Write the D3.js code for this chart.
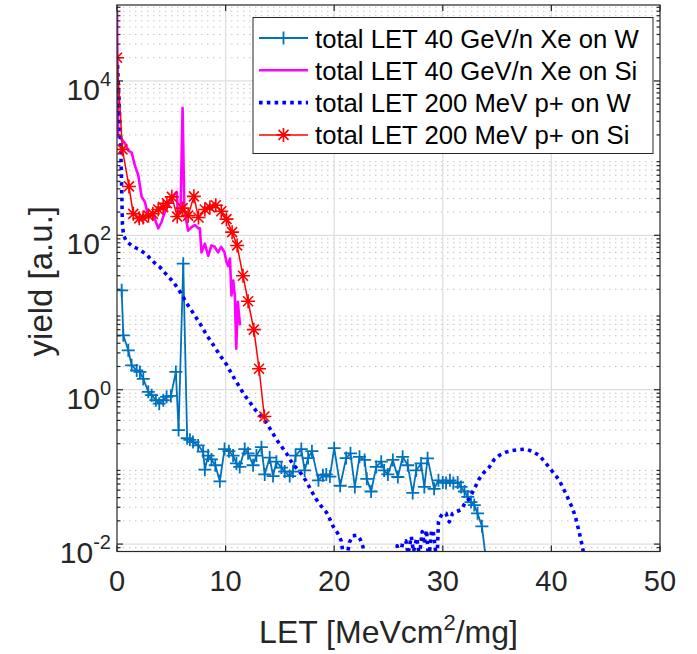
<!DOCTYPE html>
<html>
<head>
<meta charset="utf-8">
<script src="https://cdn.jsdelivr.net/npm/d3@7"></script>
<style>
  body { margin: 0; background: #fff; }
  text { font-family: "Liberation Sans", Arial, Helvetica, sans-serif; }
</style>
</head>
<body>
<div id="chart"></div>
<script>
// total LET 40 GeV/n Xe on W
var xeW_let = [0.43, 0.58, 1.04, 1.35, 1.81, 2.11, 2.42, 2.88, 3.19, 3.58, 3.89, 4.26, 4.57, 4.96, 5.42, 5.67, 6.1, 6.46, 6.71, 7.0,
  7.47, 7.93, 8.09, 8.39, 8.7, 9.05, 9.47, 9.9, 10.3, 10.69, 11.0, 11.3, 11.76, 12.07, 12.53, 12.84, 13.3, 13.6, 14.06, 14.37,
  14.68, 15.14, 15.44, 15.9, 16.2, 16.45, 16.97, 17.28, 17.6, 17.95, 18.55, 18.96, 19.27, 19.6, 20.0, 20.55, 21.1, 21.5, 21.9, 22.33,
  22.8, 23.0, 23.4, 23.87, 24.33, 24.6, 24.94, 25.4, 25.86, 26.3, 26.77, 27.23, 27.55, 28.0, 28.3, 28.6, 29.2, 29.6, 30.0, 30.3,
  30.66, 30.97, 31.37, 31.68, 32.0, 32.3, 32.6, 32.9, 33.2, 33.6, 34.0];
var xeW_yield = [19.4, 5.07, 3.24, 2.07, 1.78, 1.7, 1.38, 0.94, 0.85, 0.73, 0.66, 0.73, 0.81, 0.83, 1.7, 0.30, 43, 0.235, 0.224, 0.21,
  0.19, 0.158, 0.092, 0.14, 0.125, 0.105, 0.065, 0.17, 0.16, 0.14, 0.111, 0.1, 0.17, 0.15, 0.105, 0.14, 0.18, 0.08, 0.132, 0.076,
  0.117, 0.098, 0.087, 0.076, 0.087, 0.14, 0.17, 0.09, 0.13, 0.16, 0.067, 0.078, 0.08, 0.075, 0.175, 0.057, 0.13, 0.15, 0.055, 0.135,
  0.123, 0.07, 0.048, 0.1, 0.117, 0.09, 0.08, 0.123, 0.074, 0.135, 0.105, 0.046, 0.09, 0.111, 0.055, 0.129, 0.052, 0.067, 0.063, 0.062,
  0.067, 0.062, 0.063, 0.055, 0.048, 0.041, 0.035, 0.032, 0.025, 0.017, 0.006];

// total LET 40 GeV/n Xe on Si
var xeSi_let = [0, 0.1, 0.43, 0.74, 1.04, 1.35, 1.65, 1.96, 2.27, 2.57, 2.88, 3.34, 3.8, 4.1, 4.4, 4.8, 5.2, 5.5, 5.6, 5.85,
  6.04, 6.2, 6.55, 6.86, 7.17, 7.5, 7.63, 7.78, 8.09, 8.4, 8.7, 9.0, 9.3, 9.6, 9.9, 10.08, 10.23, 10.4, 10.54, 10.7,
  10.85, 10.98, 11.12, 11.33];
var xeSi_yield = [80000, 1900, 1750, 1550, 1250, 1180, 800, 600, 315, 270, 175, 185, 123, 149, 200, 263, 330, 365, 200, 205,
  4500, 215, 115, 128, 136, 123, 123, 60, 78, 54, 74, 71, 60, 71, 60, 45, 40, 50, 16.6, 26,
  16.6, 3.4, 13.8, 6.8];

// total LET 200 MeV p+ on W
var pW_let = [0.05, 0.18, 0.32, 0.41, 0.5, 0.6, 0.89, 1.5, 2.12, 2.73, 3.34, 3.96, 4.58, 5.18, 5.8, 6.42, 7.03, 7.64, 8.26, 8.87,
  9.48, 10.1, 10.7, 11.63, 12.86, 13.78, 14.7, 15.6, 16.2, 16.8, 17.4, 17.9, 18.35, 18.8, 19.27, 19.6, 19.9, 20.3, 20.65, 21.0,
  21.4, 21.7, 22.1, 22.4, 22.65, 22.9, 25.4, 25.8, 26.0, 26.3, 26.6, 26.8, 27.1, 27.3, 27.6, 27.85, 28.1, 28.3, 28.5, 28.7,
  28.95, 29.1, 29.3, 29.45, 29.6, 29.8, 30.0, 30.3, 30.45, 30.6, 30.9, 31.2, 31.7, 32.1, 32.45, 32.9, 33.35, 33.8, 34.3, 34.7,
  35.2, 35.8, 36.4, 37.0, 37.65, 38.25, 38.9, 39.5, 40.1, 40.7, 41.3, 41.95, 42.25, 42.55, 42.85, 43.2];
var pW_yield = [16000, 5900, 2000, 540, 140, 100, 83, 71, 65, 56, 45.5, 38.6, 30.7, 25, 18.6, 13.2, 9.8, 7.2, 5.1, 3.8,
  2.8, 2.1, 1.48, 0.9, 0.52, 0.37, 0.225, 0.15, 0.108, 0.088, 0.066, 0.049, 0.038, 0.031, 0.026, 0.021, 0.017, 0.014, 0.011, 0.005,
  0.0105, 0.0128, 0.013, 0.0115, 0.0092, 0.005, 0.005, 0.0095, 0.006, 0.0105, 0.011, 0.0075, 0.0125, 0.008, 0.012, 0.007, 0.0145, 0.01, 0.0152, 0.006,
  0.0145, 0.0152, 0.009, 0.005, 0.0195, 0.0228, 0.025, 0.025, 0.0215, 0.0194, 0.025, 0.026, 0.028, 0.035, 0.039, 0.052, 0.07, 0.085, 0.1, 0.123,
  0.141, 0.155, 0.163, 0.168, 0.17, 0.159, 0.14, 0.111, 0.087, 0.068, 0.046, 0.029, 0.0215, 0.0145, 0.0093, 0.005];

// total LET 200 MeV p+ on Si
var pSi_let = [0, 0.5, 1.1, 1.5, 2.05, 2.4, 2.9, 3.3, 3.8, 4.25, 4.6, 5.05, 5.55, 6.04, 6.55, 7.08, 7.5, 8.09, 8.55, 9.1,
  9.6, 10.08, 10.6, 11.06, 11.6, 12.07, 12.6, 13.08, 13.57];
var pSi_yield = [20000, 1300, 430, 190, 166, 170, 180, 190, 216, 232, 260, 315, 175, 225, 180, 320, 170, 216, 230, 245,
  205, 162, 110, 74, 30, 14, 6, 1.87, 0.45];

var xTicks = [0, 10, 20, 30, 40, 50];
var yTickExps = [-2, 0, 2, 4];
var legendLabels = ["total LET 40 GeV/n Xe on W", "total LET 40 GeV/n Xe on Si",
  "total LET 200 MeV p+ on W", "total LET 200 MeV p+ on Si"];

var width = 697, height = 654;
var plot = {left: 117, right: 660, top: 5, bottom: 551.5};
var axisColor = "#262626";

var svg = d3.select("#chart").append("svg")
  .attr("width", width)
  .attr("height", height);

var x = d3.scaleLinear().domain([0, 50]).range([plot.left, plot.right]);
var y = d3.scaleLog().domain([Math.pow(10, -2.096), Math.pow(10, 4.984)]).range([plot.bottom, plot.top]);

svg.append("clipPath").attr("id", "clip")
  .append("rect")
  .attr("x", plot.left).attr("y", plot.top)
  .attr("width", plot.right - plot.left).attr("height", plot.bottom - plot.top);

// minor grid (dotted) on log axis
var minors = [];
for (var e = -3; e <= 4; e++) {
  for (var k = 2; k <= 9; k++) {
    var v = k * Math.pow(10, e);
    if (v > y.domain()[0] && v < y.domain()[1]) minors.push(v);
  }
}
var grid = svg.append("g");
grid.selectAll(".minor").data(minors).enter().append("line")
  .attr("x1", plot.left).attr("x2", plot.right)
  .attr("y1", function(d) { return y(d); }).attr("y2", function(d) { return y(d); })
  .attr("stroke", "#c4c4c4").attr("stroke-width", 1)
  .attr("stroke-dasharray", "1.5,4.5");

// major grid
grid.selectAll(".gx").data(xTicks.slice(1, -1)).enter().append("line")
  .attr("x1", function(d) { return x(d); }).attr("x2", function(d) { return x(d); })
  .attr("y1", plot.top).attr("y2", plot.bottom)
  .attr("stroke", "#dfdfdf").attr("stroke-width", 1.3);
grid.selectAll(".gy").data(yTickExps).enter().append("line")
  .attr("x1", plot.left).attr("x2", plot.right)
  .attr("y1", function(d) { return y(Math.pow(10, d)); }).attr("y2", function(d) { return y(Math.pow(10, d)); })
  .attr("stroke", "#dfdfdf").attr("stroke-width", 1.3);

// series
var line = d3.line()
  .x(function(d) { return x(d[0]); })
  .y(function(d) { return y(d[1]); });

function pairs(xs, ys) {
  return xs.map(function(v, i) { return [v, ys[i]]; });
}

var series = [
  {data: pairs(xeW_let, xeW_yield), color: "#0072BD", width: 1.8, dash: null, marker: "plus"},
  {data: pairs(xeSi_let, xeSi_yield), color: "#FF00FF", width: 2.6, dash: null, marker: null},
  {data: pairs(pW_let, pW_yield), color: "#0000FF", width: 3.6, dash: "3.6,4.2", marker: null},
  {data: pairs(pSi_let, pSi_yield), color: "#FF0000", width: 1.5, dash: null, marker: "star"}
];

var markerPath = {
  plus: "M-6.5,0H6.5M0,-6.5V6.5",
  star: "M-7,0H7M0,-7V7M-5,-5L5,5M-5,5L5,-5"
};

var plotG = svg.append("g").attr("clip-path", "url(#clip)");
series.forEach(function(s) {
  plotG.append("path")
    .datum(s.data)
    .attr("d", line)
    .attr("fill", "none")
    .attr("stroke", s.color)
    .attr("stroke-width", s.width)
    .attr("stroke-dasharray", s.dash)
    .attr("stroke-linejoin", "round");
  if (s.marker) {
    plotG.selectAll(null)
      .data(s.data.filter(function(d) { return d[1] > y.domain()[0]; }))
      .enter().append("path")
      .attr("d", markerPath[s.marker])
      .attr("transform", function(d) { return "translate(" + x(d[0]) + "," + y(d[1]) + ")"; })
      .attr("fill", "none")
      .attr("stroke", s.color)
      .attr("stroke-width", s.marker == "plus" ? 1.8 : 1.6);
  }
});

// axes box and ticks
var axes = svg.append("g").attr("stroke", axisColor).attr("stroke-width", 1.2);
axes.append("rect")
  .attr("x", plot.left).attr("y", plot.top)
  .attr("width", plot.right - plot.left).attr("height", plot.bottom - plot.top)
  .attr("fill", "none");
xTicks.forEach(function(t) {
  axes.append("line").attr("x1", x(t)).attr("x2", x(t)).attr("y1", plot.bottom).attr("y2", plot.bottom - 6);
  axes.append("line").attr("x1", x(t)).attr("x2", x(t)).attr("y1", plot.top).attr("y2", plot.top + 6);
});
yTickExps.forEach(function(e) {
  var py = y(Math.pow(10, e));
  axes.append("line").attr("x1", plot.left).attr("x2", plot.left + 6).attr("y1", py).attr("y2", py);
  axes.append("line").attr("x1", plot.right).attr("x2", plot.right - 6).attr("y1", py).attr("y2", py);
});
minors.forEach(function(v) {
  var py = y(v);
  axes.append("line").attr("x1", plot.left).attr("x2", plot.left + 3.5).attr("y1", py).attr("y2", py);
  axes.append("line").attr("x1", plot.right).attr("x2", plot.right - 3.5).attr("y1", py).attr("y2", py);
});

// tick labels
svg.selectAll(".xt").data(xTicks).enter().append("text")
  .attr("x", function(d) { return x(d); })
  .attr("y", plot.bottom + 39)
  .attr("text-anchor", "middle")
  .attr("font-size", 29)
  .attr("fill", axisColor)
  .text(function(d) { return d; });

var yt = svg.selectAll(".yt").data(yTickExps).enter().append("text")
  .attr("x", plot.left - 6)
  .attr("y", function(d) { return y(Math.pow(10, d)) + 19; })
  .attr("text-anchor", "end")
  .attr("font-size", 30)
  .attr("fill", axisColor);
yt.append("tspan").text("10");
yt.append("tspan").attr("font-size", 20).attr("dy", -14).text(function(d) { return d; });

// axis labels
var xl = svg.append("text")
  .attr("x", (plot.left + plot.right) / 2)
  .attr("y", 643)
  .attr("text-anchor", "middle")
  .attr("font-size", 32)
  .attr("fill", axisColor);
xl.append("tspan").text("LET [MeVcm");
xl.append("tspan").attr("font-size", 22).attr("dy", -13).text("2");
xl.append("tspan").attr("dy", 13).text("/mg]");

svg.append("text")
  .attr("transform", "translate(52," + ((plot.top + plot.bottom) / 2 + 3) + ") rotate(-90)")
  .attr("text-anchor", "middle")
  .attr("font-size", 33)
  .attr("fill", axisColor)
  .text("yield [a.u.]");

// legend
var lg = svg.append("g");
lg.append("rect")
  .attr("x", 253).attr("y", 17.5).attr("width", 400).attr("height", 136)
  .attr("fill", "#fff").attr("stroke", "#262626").attr("stroke-width", 1);
series.forEach(function(s, i) {
  var ry = 38 + i * 32.3;
  lg.append("line")
    .attr("x1", 259).attr("x2", 308).attr("y1", ry).attr("y2", ry)
    .attr("stroke", s.color).attr("stroke-width", s.width)
    .attr("stroke-dasharray", s.dash);
  if (s.marker) {
    lg.append("path")
      .attr("d", markerPath[s.marker])
      .attr("transform", "translate(283.5," + ry + ")")
      .attr("fill", "none").attr("stroke", s.color)
      .attr("stroke-width", s.marker == "plus" ? 1.8 : 1.6);
  }
  lg.append("text")
    .attr("x", 315).attr("y", ry + 9.5)
    .attr("font-size", 25.7)
    .attr("fill", "#000")
    .text(legendLabels[i]);
});
</script>
</body>
</html>
